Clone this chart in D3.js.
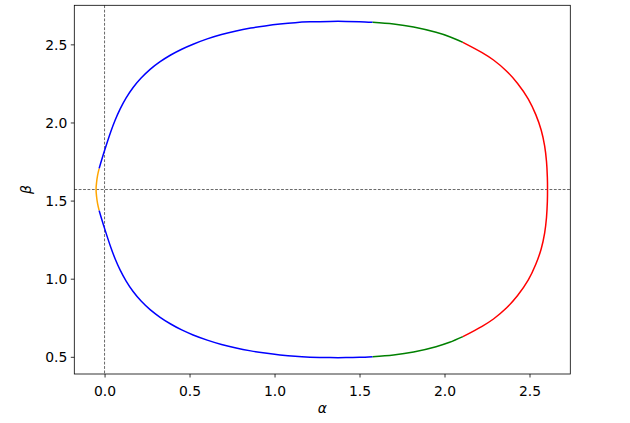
<!DOCTYPE html>
<html>
<head>
<meta charset="utf-8">
<script src="https://cdn.jsdelivr.net/npm/d3@7"></script>
<style>
  html, body { margin: 0; padding: 0; background: #fff; }
  svg { display: block; }
  text { font-family: "DejaVu Sans", sans-serif; }
</style>
</head>
<body>
<svg id="chart" width="630" height="423"></svg>
<script>
// ---- data (alpha, beta) ----
const xTicks = [0.0, 0.5, 1.0, 1.5, 2.0, 2.5];
const yTicks = [0.5, 1.0, 1.5, 2.0, 2.5];
const xDomain = [-0.178, 2.740];
const yDomain = [0.390, 2.750];
const hLineBeta = 1.5708;   // dashed horizontal reference line
const vLineAlpha = 0.0;     // dashed vertical reference line

const orangeSeg = [
  [-0.032, 1.705], [-0.041, 1.662], [-0.047, 1.616], [-0.050, 1.571],
  [-0.047, 1.526], [-0.041, 1.480], [-0.032, 1.437]
];
const blueUpper = [
  [-0.032, 1.705], [0.000, 1.820], [0.036, 1.939], [0.062, 2.014], [0.092, 2.087],
  [0.127, 2.157], [0.168, 2.224], [0.215, 2.284], [0.268, 2.340], [0.327, 2.389],
  [0.389, 2.432], [0.454, 2.469], [0.521, 2.501], [0.604, 2.535], [0.688, 2.563],
  [0.774, 2.586], [0.860, 2.604], [0.944, 2.618], [1.032, 2.630], [1.121, 2.639],
  [1.209, 2.644], [1.327, 2.647], [1.420, 2.647], [1.500, 2.645], [1.577, 2.641]
];
const blueLower = [
  [-0.032, 1.437], [0.000, 1.322], [0.036, 1.203], [0.062, 1.128], [0.092, 1.055],
  [0.127, 0.985], [0.168, 0.918], [0.215, 0.857], [0.268, 0.802], [0.327, 0.753],
  [0.389, 0.710], [0.454, 0.672], [0.521, 0.640], [0.604, 0.607], [0.688, 0.579],
  [0.774, 0.556], [0.860, 0.538], [0.944, 0.524], [1.032, 0.512], [1.121, 0.503],
  [1.209, 0.498], [1.327, 0.495], [1.420, 0.495], [1.500, 0.497], [1.577, 0.501]
];
const greenUpper = [
  [1.577, 2.641], [1.700, 2.630], [1.818, 2.611], [1.950, 2.577], [2.030, 2.549], [2.108, 2.513]
];
const greenLower = [
  [1.577, 0.501], [1.700, 0.512], [1.818, 0.531], [1.950, 0.565], [2.030, 0.593], [2.108, 0.629]
];
const redSeg = [
  [2.108, 2.513], [2.221, 2.447], [2.288, 2.400], [2.364, 2.330], [2.430, 2.250],
  [2.493, 2.150], [2.537, 2.050], [2.569, 1.950], [2.589, 1.850], [2.600, 1.750],
  [2.605, 1.650], [2.606, 1.571],
  [2.605, 1.492], [2.600, 1.392], [2.589, 1.292], [2.569, 1.192], [2.537, 1.092],
  [2.493, 0.992], [2.430, 0.892], [2.364, 0.812], [2.288, 0.742], [2.221, 0.695],
  [2.108, 0.629]
];

const segments = [
  { pts: blueUpper,  color: "#0000ff" },
  { pts: blueLower,  color: "#0000ff" },
  { pts: orangeSeg,  color: "#ffa500" },
  { pts: greenUpper, color: "#008000" },
  { pts: greenLower, color: "#008000" },
  { pts: redSeg,     color: "#ff0000" }
];

// ---- layout ----
const L = 74.3, R = 570.3, T = 5.3, B = 374.0;
const svg = d3.select("#chart");
const x = d3.scaleLinear().domain(xDomain).range([L, R]);
const y = d3.scaleLinear().domain(yDomain).range([B, T]);

// reference lines
svg.append("line")
  .attr("x1", x(vLineAlpha)).attr("x2", x(vLineAlpha))
  .attr("y1", T).attr("y2", B)
  .attr("stroke", "#000").attr("stroke-width", 0.6)
  .attr("stroke-dasharray", "2.8,1.6");
svg.append("line")
  .attr("x1", L).attr("x2", R)
  .attr("y1", y(hLineBeta)).attr("y2", y(hLineBeta))
  .attr("stroke", "#000").attr("stroke-width", 0.6)
  .attr("stroke-dasharray", "2.8,1.6");

// curve segments
const line = d3.line()
  .x(d => x(d[0])).y(d => y(d[1]))
  .curve(d3.curveCatmullRom.alpha(0.5));
svg.append("g").selectAll("path")
  .data(segments).join("path")
  .attr("d", d => line(d.pts))
  .attr("fill", "none")
  .attr("stroke", d => d.color)
  .attr("stroke-width", 1.5)
  .attr("stroke-linecap", "butt");

// axes
const xAxis = d3.axisBottom(x).tickValues(xTicks).tickFormat(d3.format(".1f"))
  .tickSize(3.5).tickPadding(3.5);
const yAxis = d3.axisLeft(y).tickValues(yTicks).tickFormat(d3.format(".1f"))
  .tickSize(3.5).tickPadding(3.5);

const gx = svg.append("g").attr("transform", `translate(0,${B})`).call(xAxis);
const gy = svg.append("g").attr("transform", `translate(${L},0)`).call(yAxis);
[gx, gy].forEach(g => {
  g.select(".domain").remove();
  g.selectAll(".tick line").attr("stroke", "#000").attr("stroke-width", 0.8);
  g.selectAll(".tick text").attr("fill", "#000")
    .style("font-family", "'DejaVu Sans', sans-serif").style("font-size", "13.9px");
});
gx.selectAll(".tick text").attr("dy", null).attr("y", 21.6);
gy.selectAll(".tick text").attr("dy", "0.36em");

// frame (spines)
svg.append("rect")
  .attr("x", L).attr("y", T).attr("width", R - L).attr("height", B - T)
  .attr("fill", "none").attr("stroke", "#000").attr("stroke-width", 0.8);

// axis labels
svg.append("text")
  .attr("x", (L + R) / 2).attr("y", 413)
  .attr("text-anchor", "middle")
  .style("font-size", "13.9px").style("font-style", "italic")
  .text("α");
svg.append("text")
  .attr("transform", `translate(31,${(T + B) / 2}) rotate(-90)`)
  .attr("text-anchor", "middle")
  .style("font-size", "13.9px").style("font-style", "italic")
  .text("β");
</script>
</body>
</html>
